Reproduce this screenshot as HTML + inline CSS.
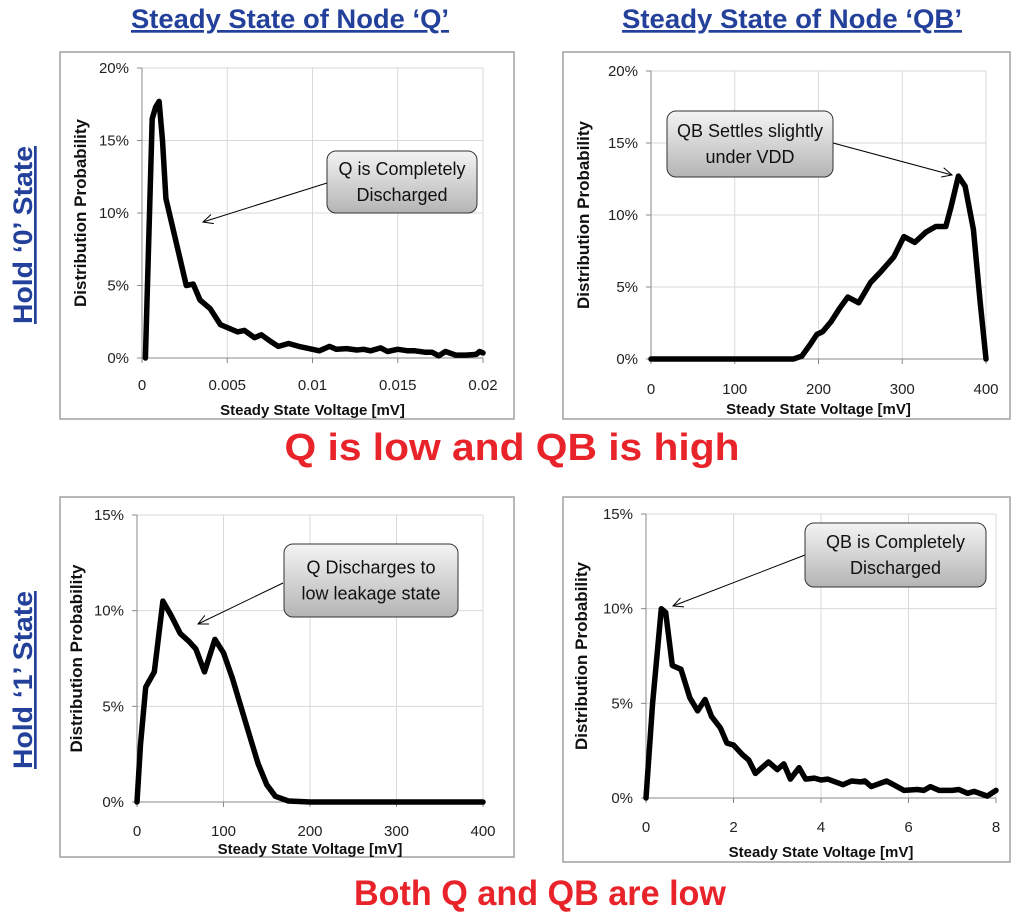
<!DOCTYPE html>
<html><head><meta charset="utf-8">
<style>
body{margin:0;background:#fff;width:1024px;height:912px;overflow:hidden;font-family:"Liberation Sans",sans-serif;}
svg{position:absolute;left:0;top:0;}
</style></head>
<body>
<svg id="s" width="1024" height="912" xmlns="http://www.w3.org/2000/svg">
<defs>
<linearGradient id="bg" x1="0" y1="0" x2="0" y2="1"><stop offset="0" stop-color="#f4f4f4"/><stop offset="1" stop-color="#b4b4b4"/></linearGradient>
</defs>
<g font-family="Liberation Sans, sans-serif" font-weight="bold">
<text x="290" y="28" text-anchor="middle" font-size="27" fill="#23409a" text-decoration="underline" textLength="318" lengthAdjust="spacingAndGlyphs">Steady State of Node ‘Q’</text>
<text x="792" y="28" text-anchor="middle" font-size="27" fill="#23409a" text-decoration="underline" textLength="340" lengthAdjust="spacingAndGlyphs">Steady State of Node ‘QB’</text>
<text transform="translate(32,235) rotate(-90)" text-anchor="middle" font-size="27" fill="#23409a" text-decoration="underline" textLength="178" lengthAdjust="spacingAndGlyphs">Hold ‘0’ State</text>
<text transform="translate(32,680) rotate(-90)" text-anchor="middle" font-size="27" fill="#23409a" text-decoration="underline" textLength="178" lengthAdjust="spacingAndGlyphs">Hold ‘1’ State</text>
<text x="512" y="460" text-anchor="middle" font-size="38" fill="#e8242a" textLength="455" lengthAdjust="spacingAndGlyphs">Q is low and QB is high</text>
<text x="540" y="905" text-anchor="middle" font-size="35" fill="#e8242a" textLength="372" lengthAdjust="spacingAndGlyphs">Both Q and QB are low</text>
</g>
<g id="charts"></g>
</svg>
<script>
// Chart 1: Hold 0, node Q
const c1X = [0.0002,0.0006,0.0008,0.001,0.0012,0.0014,0.0018,0.0022,0.0026,0.003,0.0034,0.004,0.0046,0.0052,0.0056,0.006,0.0066,0.007,0.0076,0.008,0.0086,0.0092,0.01,0.0104,0.011,0.0114,0.012,0.0126,0.013,0.0134,0.014,0.0144,0.015,0.0156,0.016,0.0166,0.017,0.0174,0.0178,0.0184,0.019,0.0196,0.0198,0.02];
const c1Y = [0,16.5,17.3,17.7,15,11,9,7,5,5.1,4,3.4,2.3,2.0,1.8,1.9,1.4,1.6,1.1,0.8,1.0,0.8,0.6,0.5,0.8,0.6,0.65,0.55,0.6,0.5,0.7,0.45,0.6,0.5,0.5,0.4,0.4,0.15,0.45,0.2,0.2,0.25,0.45,0.35];
const c1XTicks = [0,0.005,0.01,0.015,0.02];
const c1XLabels = ["0","0.005","0.01","0.015","0.02"];
// Chart 2: Hold 0, node QB
const c2X = [0,170,180,190,198,205,215,225,235,248,262,275,290,302,315,328,340,352,358,367,375,385,393,400];
const c2Y = [0,0,0.2,1,1.7,1.9,2.6,3.5,4.3,3.9,5.3,6.1,7.1,8.5,8.1,8.8,9.2,9.2,10.5,12.7,12,9,4,0];
const c2XTicks = [0,100,200,300,400];
const c2XLabels = ["0","100","200","300","400"];
// Chart 3: Hold 1, node Q
const c3X = [0,4,10,20,30,40,50,60,68,78,90,100,110,120,130,140,150,160,175,200,400];
const c3Y = [0,3,6,6.8,10.5,9.7,8.8,8.4,8,6.8,8.5,7.8,6.5,5,3.5,2,0.9,0.3,0.05,0,0];
const c3XTicks = [0,100,200,300,400];
const c3XLabels = ["0","100","200","300","400"];
// Chart 4: Hold 1, node QB
const c4X = [0,0.15,0.35,0.45,0.6,0.8,1,1.18,1.35,1.5,1.7,1.85,2,2.2,2.35,2.5,2.65,2.8,3,3.15,3.3,3.5,3.65,3.85,4,4.15,4.5,4.7,4.9,5,5.15,5.5,5.9,6.2,6.35,6.5,6.7,7,7.15,7.35,7.5,7.8,8];
const c4Y = [0,5,10,9.8,7,6.8,5.3,4.6,5.2,4.3,3.7,2.9,2.8,2.3,2.0,1.3,1.6,1.9,1.5,1.8,1.0,1.6,1.0,1.05,0.95,1.0,0.7,0.9,0.85,0.9,0.6,0.9,0.4,0.45,0.4,0.6,0.4,0.4,0.45,0.25,0.35,0.1,0.4];
const c4XTicks = [0,2,4,6,8];
const c4XLabels = ["0","2","4","6","8"];
const yTicks20 = [0,5,10,15,20];
const yTicks15 = [0,5,10,15];

const NS="http://www.w3.org/2000/svg";
const root=document.getElementById('charts');
function mk(tag,attrs,parent){const e=document.createElementNS(NS,tag);for(const k in attrs)e.setAttribute(k,attrs[k]);(parent||root).appendChild(e);return e;}

function chart(cfg){
  const g=mk('g',{});
  
  
  const fr=mk('rect',{x:cfg.frame[0],y:cfg.frame[1],width:cfg.frame[2],height:cfg.frame[3],fill:'#fff',stroke:'#a0a0a0','stroke-width':1.5},g);
  
  
  const xmin=cfg.xTicks[0], xmax=cfg.xTicks[cfg.xTicks.length-1];
  const ymax=cfg.yTicks[cfg.yTicks.length-1];
  const sx=v=>cfg.x0+(v-xmin)/(xmax-xmin)*(cfg.x1-cfg.x0);
  const sy=v=>cfg.y0-v/ymax*(cfg.y0-cfg.yt);
  cfg.yTicks.forEach(t=>{
    const y=sy(t);
    if(t>0){const l=mk('line',{x1:cfg.x0,x2:cfg.x1,y1:y,y2:y,stroke:'#d9d9d9','stroke-width':1},g);
      
      }
    const tk=mk('line',{x1:cfg.x0-5,x2:cfg.x0,y1:y,y2:y,stroke:'#888'},g);
    
    
    const tx=mk('text',{x:cfg.x0-13,y:y+5,'text-anchor':'end','font-size':15,fill:'#222'},g);
    
    
    tx.textContent=t+'%';
  });
  cfg.xTicks.forEach((t,i)=>{
    const x=sx(t);
    if(i>0){const l=mk('line',{x1:x,x2:x,y1:cfg.yt,y2:cfg.y0,stroke:'#d9d9d9','stroke-width':1},g);
      
      }
    const tk=mk('line',{x1:x,x2:x,y1:cfg.y0,y2:cfg.y0+5,stroke:'#888'},g);
    
    
    const tx=mk('text',{x:x,y:cfg.xly,'text-anchor':'middle','font-size':15,fill:'#222'},g);
    
    
    tx.textContent=cfg.xLabels[i];
  });
  const ax=mk('line',{x1:cfg.x0,x2:cfg.x0,y1:cfg.yt,y2:cfg.y0,stroke:'#888'},g);
  
  
  const ax2=mk('line',{x1:cfg.x0,x2:cfg.x1,y1:cfg.y0,y2:cfg.y0,stroke:'#888'},g);
  
  
  const xt=mk('text',{x:(cfg.x0+cfg.x1)/2,y:cfg.xty,'text-anchor':'middle','font-size':15,'font-weight':'bold',fill:'#111'},g);
  
  
  xt.textContent='Steady State Voltage [mV]';
  const yt=mk('text',{transform:`translate(${cfg.ytx},${(cfg.yt+cfg.y0)/2}) rotate(-90)`,'text-anchor':'middle','font-size':17,'font-weight':'bold',fill:'#111'},g);
  
  
  yt.textContent='Distribution Probability';
  const d=cfg.xs.map((v,i)=>(i?'L':'M')+sx(v).toFixed(1)+','+sy(cfg.ys[i]).toFixed(1)).join(' ');
  const p=mk('path',{d:d,fill:'none',stroke:'#000','stroke-width':5.5,'stroke-linejoin':'round','stroke-linecap':'round'},g);
  
  
  const b=cfg.box;
  const ar=mk('line',{x1:cfg.arrow[0],y1:cfg.arrow[1],x2:cfg.arrow[2],y2:cfg.arrow[3],stroke:'#000','stroke-width':1},g);
  
  
  const ang=Math.atan2(cfg.arrow[3]-cfg.arrow[1],cfg.arrow[2]-cfg.arrow[0]);
  const hx=cfg.arrow[2],hy=cfg.arrow[3],L=11;
  const ah=mk('path',{d:`M${hx-L*Math.cos(ang-0.45)},${hy-L*Math.sin(ang-0.45)} L${hx},${hy} L${hx-L*Math.cos(ang+0.45)},${hy-L*Math.sin(ang+0.45)}`,fill:'none',stroke:'#000','stroke-width':1},g);
  
  
  const br=mk('rect',{x:b[0],y:b[1],width:b[2],height:b[3],rx:9,fill:'url(#bg)',stroke:'#333','stroke-width':1},g);
  
  
  cfg.note.forEach((s,i)=>{
    const t=mk('text',{x:b[0]+b[2]/2,y:b[1]+b[3]/2-4+(i-(cfg.note.length-1)/2)*26+10,'text-anchor':'middle','font-size':18,fill:'#111'},g);
    
    
    t.textContent=s;
  });
}

chart({name:'chart-hold0-q',frame:[60,52,454,367],x0:142,x1:483,yt:68,y0:358,xTicks:c1XTicks,xLabels:c1XLabels,yTicks:yTicks20,xs:c1X,ys:c1Y,xly:390,xty:415,ytx:86,box:[327,151,150,62],arrow:[327,183,203,222],note:['Q is Completely','Discharged']});
chart({name:'chart-hold0-qb',frame:[563,52,447,367],x0:651,x1:986,yt:71,y0:359,xTicks:c2XTicks,xLabels:c2XLabels,yTicks:yTicks20,xs:c2X,ys:c2Y,xly:394,xty:414,ytx:589,box:[667,111,166,66],arrow:[833,143,952,175],note:['QB Settles slightly','under VDD']});
chart({name:'chart-hold1-q',frame:[60,497,454,360],x0:137,x1:483,yt:515,y0:802,xTicks:c3XTicks,xLabels:c3XLabels,yTicks:yTicks15,xs:c3X,ys:c3Y,xly:836,xty:854,ytx:82,box:[284,544,174,73],arrow:[283,583,198,624],note:['Q Discharges to','low leakage state']});
chart({name:'chart-hold1-qb',frame:[563,497,447,365],x0:646,x1:996,yt:514,y0:798,xTicks:c4XTicks,xLabels:c4XLabels,yTicks:yTicks15,xs:c4X,ys:c4Y,xly:832,xty:857,ytx:587,box:[805,523,181,64],arrow:[805,555,673,606],note:['QB is Completely','Discharged']});
</script>
</body></html>
